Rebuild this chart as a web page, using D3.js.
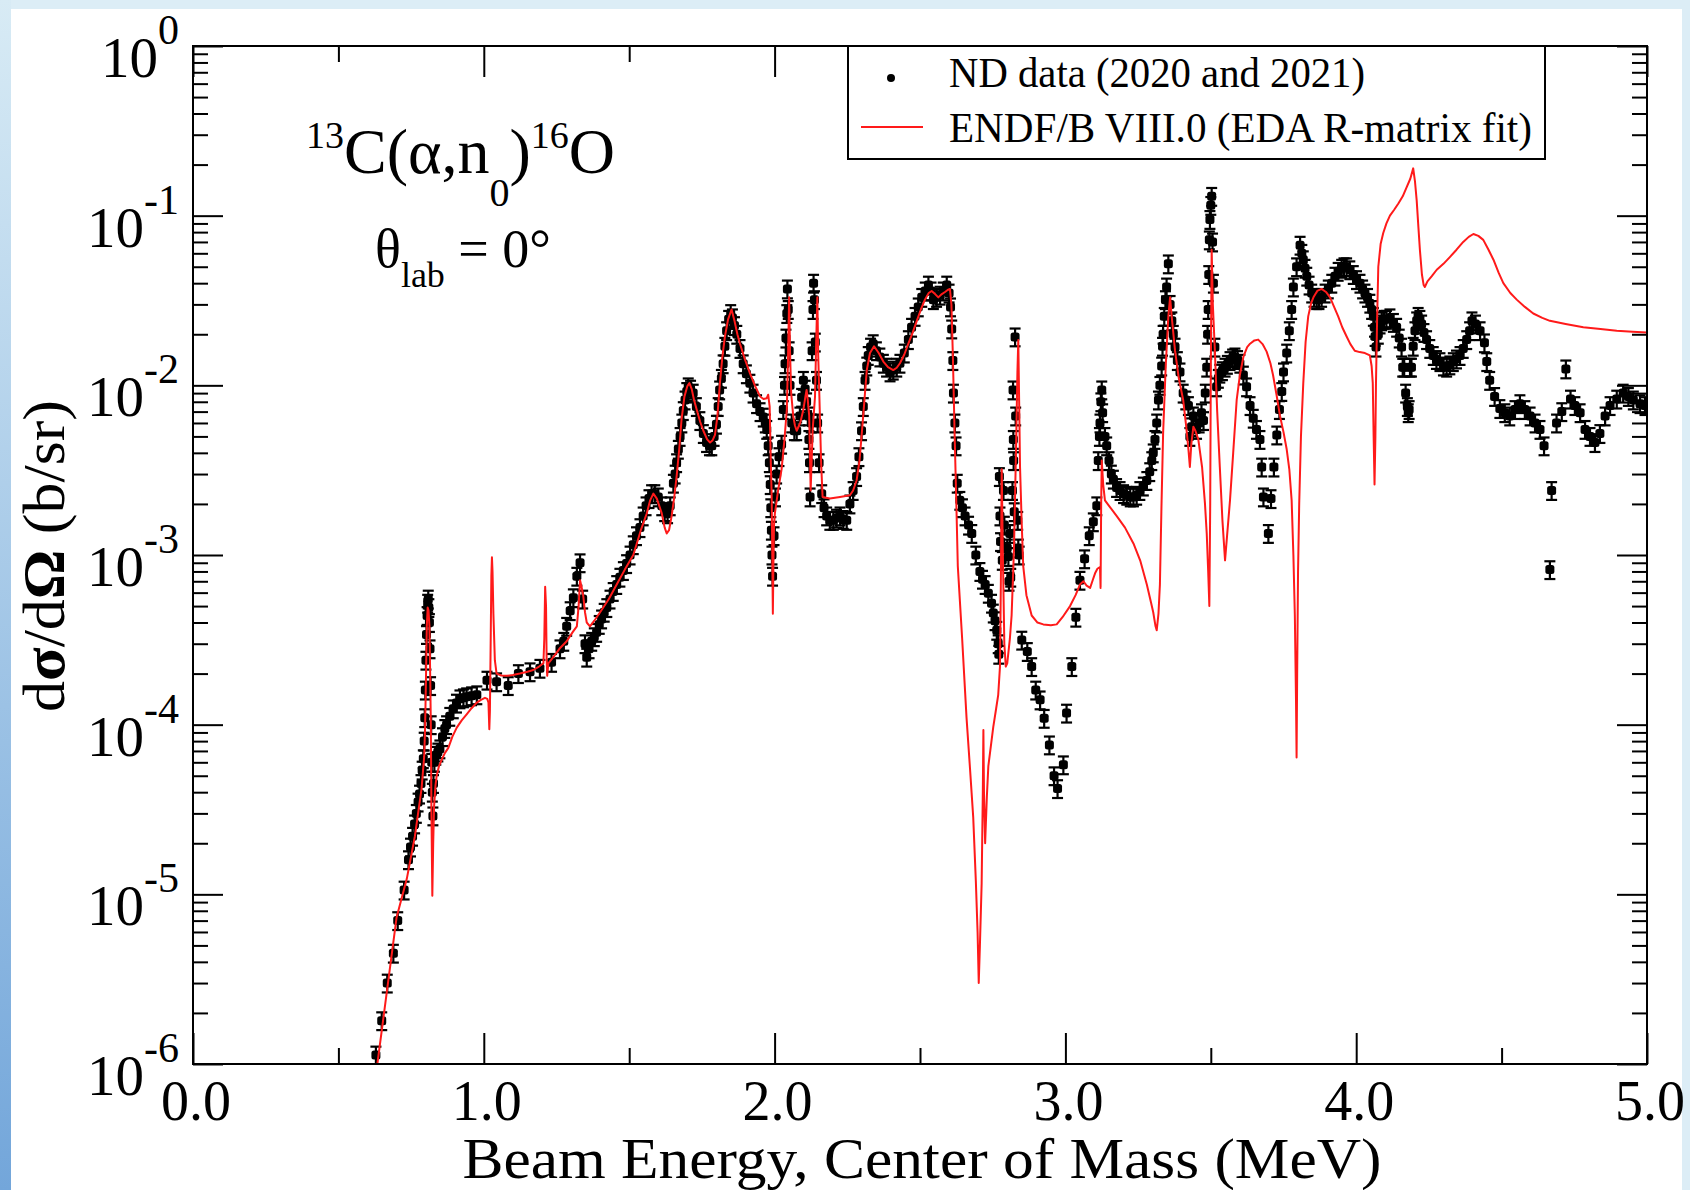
<!DOCTYPE html>
<html>
<head>
<meta charset="utf-8">
<script src="https://cdn.jsdelivr.net/npm/d3@7"></script>
<style>
html, body { margin: 0; padding: 0; background: #fff; overflow: hidden; }
svg { display: block; }
text { font-family: "Liberation Serif", "Times New Roman", serif; fill: #000; }
</style>
</head>
<body>
<svg id="chart" width="1690" height="1190"></svg>
<script>
// ND data (2020 and 2021): [E_cm (MeV), dsigma/dOmega (b/sr)]
const ndData = [
  [0.629,1.13e-6],[0.649,1.8e-6],[0.668,3.0e-6],[0.689,4.5e-6],[0.704,7.0e-6],[0.726,1.06e-5],
  [0.741,1.6e-5],[0.748,1.9e-5],[0.755,2.2e-5],[0.762,2.6e-5],[0.768,3.0e-5],[0.774,3.5e-5],
  [0.779,3.9e-5],[0.784,4.5e-5],[0.788,5.4e-5],[0.792,6.3e-5],[0.795,8.0e-5],[0.797,1.1e-4],
  [0.799,1.6e-4],[0.801,2.4e-4],[0.803,3.4e-4],[0.805,4.4e-4],[0.807,5.2e-4],[0.809,5.5e-4],
  [0.811,4.9e-4],[0.813,4.0e-4],[0.815,2.8e-4],[0.817,1.7e-4],[0.819,1.0e-4],[0.821,6.0e-5],
  [0.823,4.0e-5],[0.825,2.9e-5],[0.827,4.5e-5],[0.830,6.0e-5],[0.835,6.6e-5],[0.842,6.9e-5],
  [0.849,7.2e-5],[0.858,8.5e-5],[0.866,9.5e-5],[0.872,1.0e-4],[0.883,1.12e-4],[0.895,1.24e-4],
  [0.906,1.34e-4],[0.918,1.42e-4],[0.930,1.44e-4],[0.941,1.46e-4],[0.958,1.48e-4],[0.976,1.5e-4],
  [1.011,1.83e-4],[1.044,1.79e-4],[1.084,1.7e-4],[1.119,2.0e-4],[1.159,2.05e-4],[1.193,2.15e-4],
  [1.233,2.33e-4],[1.262,2.8e-4],[1.275,3.1e-4],[1.285,3.8e-4],[1.297,4.7e-4],[1.308,5.6e-4],
  [1.320,7.5e-4],[1.331,9.0e-4],[1.340,5.5e-4],[1.348,3.0e-4],[1.354,2.5e-4],[1.362,2.8e-4],
  [1.371,3.1e-4],[1.380,3.3e-4],[1.388,3.5e-4],[1.397,3.9e-4],[1.405,4.2e-4],[1.414,4.6e-4],
  [1.423,4.9e-4],[1.434,5.5e-4],[1.445,6.1e-4],[1.457,6.7e-4],[1.468,7.4e-4],[1.480,8.1e-4],
  [1.491,8.9e-4],[1.503,1.0e-3],[1.514,1.15e-3],[1.525,1.3e-3],[1.537,1.45e-3],[1.548,1.7e-3],
  [1.558,1.95e-3],[1.568,2.15e-3],[1.577,2.3e-3],[1.588,2.3e-3],[1.600,2.2e-3],[1.612,1.95e-3],
  [1.622,1.8e-3],[1.632,1.75e-3],[1.641,1.95e-3],[1.652,2.65e-3],[1.658,3.0e-3],[1.663,3.5e-3],
  [1.669,4.2e-3],[1.675,5.0e-3],[1.681,6.0e-3],[1.686,7.1e-3],[1.692,8.2e-3],[1.698,9.2e-3],
  [1.703,9.8e-3],[1.711,9.5e-3],[1.720,9.0e-3],[1.731,7.5e-3],[1.743,6.2e-3],[1.755,5.2e-3],
  [1.766,4.6e-3],[1.776,4.4e-3],[1.784,4.4e-3],[1.792,5.0e-3],[1.800,5.9e-3],[1.806,7.5e-3],
  [1.811,9.4e-3],[1.817,1.1e-2],[1.823,1.34e-2],[1.829,1.7e-2],[1.835,2.1e-2],[1.842,2.45e-2],
  [1.849,2.65e-2],[1.855,2.5e-2],[1.862,2.25e-2],[1.870,2.0e-2],[1.881,1.65e-2],[1.892,1.34e-2],
  [1.903,1.17e-2],[1.915,1.03e-2],[1.926,9.0e-3],[1.938,7.8e-3],[1.950,7.0e-3],[1.961,6.5e-3],
  [1.968,6.0e-3],[1.973,5.5e-3],[1.978,4.4e-3],[1.982,3.5e-3],[1.985,2.6e-3],[1.987,1.9e-3],
  [1.989,1.4e-3],[1.991,1.0e-3],[1.993,7.5e-4],[1.998,1.3e-3],[2.003,2.2e-3],[2.007,3.0e-3],
  [2.015,3.8e-3],[2.024,4.5e-3],[2.030,7.2e-3],[2.034,1.0e-2],[2.036,1.34e-2],[2.039,1.9e-2],
  [2.042,2.65e-2],[2.044,3.7e-2],[2.047,2.8e-2],[2.050,1.6e-2],[2.053,1.0e-2],[2.059,6.0e-3],
  [2.068,5.4e-3],[2.076,5.4e-3],[2.087,6.6e-3],[2.093,8.5e-3],[2.099,1.07e-2],[2.105,9.5e-3],
  [2.110,8.0e-3],[2.116,6.6e-3],[2.118,4.8e-3],[2.120,3.5e-3],[2.122,2.2e-3],[2.126,6.0e-3],
  [2.129,1.6e-2],[2.132,2.8e-2],[2.134,4.0e-2],[2.137,3.2e-2],[2.140,1.8e-2],[2.144,1.07e-2],
  [2.148,6.0e-3],[2.153,3.5e-3],[2.162,2.3e-3],[2.170,1.9e-3],[2.179,1.7e-3],[2.190,1.6e-3],
  [2.202,1.6e-3],[2.213,1.65e-3],[2.225,1.7e-3],[2.236,1.62e-3],[2.248,1.6e-3],[2.259,2.0e-3],
  [2.270,2.4e-3],[2.282,2.9e-3],[2.290,3.8e-3],[2.299,5.4e-3],[2.305,7.5e-3],[2.311,1.07e-2],
  [2.317,1.3e-2],[2.322,1.5e-2],[2.330,1.68e-2],[2.339,1.76e-2],[2.350,1.6e-2],[2.362,1.47e-2],
  [2.374,1.35e-2],[2.385,1.28e-2],[2.397,1.2e-2],[2.408,1.23e-2],[2.420,1.28e-2],[2.431,1.35e-2],
  [2.446,1.55e-2],[2.460,1.86e-2],[2.471,2.2e-2],[2.483,2.55e-2],[2.494,2.9e-2],[2.506,3.3e-2],
  [2.518,3.6e-2],[2.529,3.9e-2],[2.538,3.6e-2],[2.546,3.2e-2],[2.557,3.3e-2],[2.569,3.4e-2],
  [2.580,3.6e-2],[2.592,3.9e-2],[2.600,3.5e-2],[2.605,2.9e-2],[2.609,2.15e-2],[2.613,1.4e-2],
  [2.615,9.0e-3],[2.620,6.0e-3],[2.624,4.4e-3],[2.628,2.65e-3],[2.637,2.1e-3],[2.646,1.9e-3],
  [2.655,1.7e-3],[2.667,1.5e-3],[2.678,1.34e-3],[2.692,1.0e-3],[2.706,8.0e-4],[2.715,7.2e-4],
  [2.724,6.7e-4],[2.735,5.95e-4],[2.746,5.2e-4],[2.752,4.55e-4],[2.758,4.1e-4],[2.764,3.6e-4],
  [2.769,3.0e-4],[2.771,2.6e-4],[2.773,2.9e-3],[2.775,1.7e-3],[2.777,1.2e-3],[2.783,9.3e-4],
  [2.787,2.4e-3],[2.790,1.5e-3],[2.800,1.1e-3],[2.804,9.8e-4],[2.806,7.0e-4],[2.809,1.34e-3],
  [2.812,7.4e-4],[2.818,2.4e-3],[2.820,9.4e-3],[2.821,4.8e-3],[2.822,3.6e-3],[2.824,1.8e-3],
  [2.827,1.93e-2],[2.829,6.6e-3],[2.836,1.6e-3],[2.838,1.1e-3],[2.841,1.0e-3],[2.850,3.15e-4],
  [2.869,2.7e-4],[2.884,2.2e-4],[2.898,1.6e-4],[2.913,1.4e-4],[2.927,1.09e-4],[2.945,7.6e-5],
  [2.961,5.0e-5],[2.973,4.2e-5],[2.993,5.8e-5],[3.004,1.17e-4],[3.022,2.2e-4],[3.036,4.3e-4],
  [3.050,7.1e-4],[3.066,9.5e-4],[3.082,1.3e-3],[3.096,1.57e-3],[3.108,1.95e-3],[3.113,3.6e-3],
  [3.117,5.0e-3],[3.119,6.0e-3],[3.122,8.0e-3],[3.125,9.4e-3],[3.128,6.9e-3],[3.136,5.0e-3],
  [3.142,4.4e-3],[3.150,3.6e-3],[3.158,3.0e-3],[3.165,2.8e-3],[3.176,2.5e-3],[3.188,2.4e-3],
  [3.200,2.3e-3],[3.211,2.25e-3],[3.223,2.2e-3],[3.234,2.2e-3],[3.245,2.25e-3],[3.256,2.4e-3],
  [3.268,2.55e-3],[3.280,2.75e-3],[3.290,3.1e-3],[3.297,3.6e-3],[3.302,4.0e-3],[3.308,4.8e-3],
  [3.314,6.0e-3],[3.320,8.2e-3],[3.325,1.0e-2],[3.331,1.3e-2],[3.334,1.7e-2],[3.336,2.0e-2],
  [3.340,2.55e-2],[3.344,3.2e-2],[3.348,3.8e-2],[3.354,5.2e-2],[3.360,3.0e-2],[3.366,2.4e-2],
  [3.371,2.0e-2],[3.377,1.68e-2],[3.385,1.4e-2],[3.394,1.2e-2],[3.405,9.0e-3],[3.414,8.2e-3],
  [3.423,7.6e-3],[3.428,5.0e-3],[3.434,5.7e-3],[3.440,6.6e-3],[3.451,5.5e-3],[3.460,6.0e-3],
  [3.468,6.9e-3],[3.475,6.2e-3],[3.481,9.0e-3],[3.486,1.28e-2],[3.489,2.0e-2],[3.491,2.8e-2],
  [3.493,4.5e-2],[3.495,7.2e-2],[3.497,9.5e-2],[3.500,1.15e-1],[3.503,1.3e-1],[3.506,7.0e-2],
  [3.509,4.0e-2],[3.514,1.68e-2],[3.520,9.8e-3],[3.526,1.1e-2],[3.531,1.18e-2],[3.540,1.22e-2],
  [3.549,1.28e-2],[3.557,1.33e-2],[3.566,1.4e-2],[3.575,1.45e-2],[3.583,1.47e-2],[3.592,1.42e-2],
  [3.600,1.35e-2],[3.612,1.15e-2],[3.623,9.8e-3],[3.635,7.6e-3],[3.646,6.4e-3],[3.657,5.5e-3],
  [3.669,4.8e-3],[3.675,3.3e-3],[3.681,2.2e-3],[3.698,1.34e-3],[3.707,2.15e-3],[3.717,3.3e-3],
  [3.727,5.1e-3],[3.736,7.2e-3],[3.744,9.2e-3],[3.750,1.2e-2],[3.761,1.55e-2],[3.770,2.1e-2],
  [3.778,2.8e-2],[3.784,3.8e-2],[3.795,5.0e-2],[3.807,6.7e-2],[3.813,6.0e-2],[3.818,5.5e-2],
  [3.824,4.9e-2],[3.830,4.4e-2],[3.838,3.9e-2],[3.847,3.5e-2],[3.855,3.3e-2],[3.864,3.2e-2],
  [3.872,3.2e-2],[3.881,3.3e-2],[3.893,3.5e-2],[3.904,3.7e-2],[3.916,4.0e-2],[3.927,4.4e-2],
  [3.938,4.7e-2],[3.950,4.9e-2],[3.958,5.0e-2],[3.967,5.0e-2],[3.978,4.8e-2],[3.990,4.5e-2],
  [4.001,4.2e-2],[4.013,4.0e-2],[4.022,3.7e-2],[4.030,3.5e-2],[4.039,3.3e-2],[4.047,3.05e-2],
  [4.053,2.8e-2],[4.059,2.55e-2],[4.063,2.2e-2],[4.065,1.94e-2],[4.068,1.68e-2],[4.076,2.0e-2],
  [4.082,2.3e-2],[4.088,2.4e-2],[4.096,2.45e-2],[4.104,2.45e-2],[4.116,2.5e-2],[4.128,2.35e-2],
  [4.139,2.2e-2],[4.148,1.9e-2],[4.156,1.68e-2],[4.160,1.28e-2],[4.165,1.28e-2],[4.170,9.0e-3],
  [4.176,7.5e-3],[4.179,6.9e-3],[4.182,7.2e-3],[4.185,1.28e-2],[4.190,1.28e-2],[4.196,1.7e-2],
  [4.202,2.1e-2],[4.208,2.4e-2],[4.213,2.55e-2],[4.219,2.45e-2],[4.225,2.3e-2],[4.233,2.05e-2],
  [4.242,1.86e-2],[4.253,1.65e-2],[4.265,1.5e-2],[4.276,1.42e-2],[4.288,1.38e-2],[4.300,1.3e-2],
  [4.311,1.28e-2],[4.322,1.32e-2],[4.334,1.38e-2],[4.345,1.43e-2],[4.357,1.5e-2],[4.368,1.65e-2],
  [4.380,1.86e-2],[4.390,2.1e-2],[4.398,2.4e-2],[4.410,2.3e-2],[4.426,2.1e-2],[4.441,1.78e-2],
  [4.449,1.38e-2],[4.459,1.07e-2],[4.476,8.6e-3],[4.494,7.3e-3],[4.511,6.9e-3],[4.528,6.6e-3],
  [4.546,7.2e-3],[4.563,7.8e-3],[4.580,7.2e-3],[4.598,6.6e-3],[4.615,6.0e-3],[4.632,5.5e-3],
  [4.646,4.4e-3],[4.666,8.2e-4],[4.672,2.4e-3],[4.689,6.0e-3],[4.707,7.0e-3],[4.721,1.25e-2],
  [4.737,8.3e-3],[4.752,7.6e-3],[4.770,6.9e-3],[4.787,5.5e-3],[4.804,5.0e-3],[4.821,4.6e-3],
  [4.838,5.2e-3],[4.856,6.6e-3],[4.873,7.6e-3],[4.896,8.3e-3],[4.918,9.0e-3],[4.936,8.6e-3],
  [4.953,8.2e-3],[4.976,7.8e-3],[4.993,7.6e-3]
];
const ndRelErr = 0.12;

// ENDF/B VIII.0 (EDA R-matrix fit): [E_cm (MeV), dsigma/dOmega (b/sr)]
const endfCurve = [
  [0.634,1.0e-6],[0.700,7.3e-6],[0.735,1.23e-5],[0.763,2.2e-5],[0.786,4.2e-5],[0.795,6.5e-5],
  [0.798,9.4e-5],[0.801,1.8e-4],[0.804,3.8e-4],[0.807,4.9e-4],[0.810,4.7e-4],[0.813,3.8e-4],
  [0.816,1.8e-4],[0.818,9.4e-5],[0.820,3.0e-5],[0.823,9.8e-6],[0.826,2.0e-5],[0.829,3.3e-5],
  [0.834,4.4e-5],[0.838,5.0e-5],[0.846,5.7e-5],[0.855,6.2e-5],[0.866,6.8e-5],[0.878,7.3e-5],
  [0.892,8.5e-5],[0.907,9.6e-5],[0.924,1.06e-4],[0.941,1.15e-4],[0.958,1.25e-4],[0.976,1.35e-4],
  [0.990,1.4e-4],[1.004,1.44e-4],[1.012,1.42e-4],[1.016,1.35e-4],[1.019,9.4e-5],[1.021,1.2e-4],
  [1.024,3.5e-4],[1.026,7.5e-4],[1.028,9.7e-4],[1.030,8.0e-4],[1.033,4.5e-4],[1.038,2.4e-4],
  [1.044,2.0e-4],[1.060,1.95e-4],[1.079,1.94e-4],[1.100,1.96e-4],[1.124,2.0e-4],[1.150,2.05e-4],
  [1.170,2.1e-4],[1.190,2.2e-4],[1.205,2.3e-4],[1.208,3.2e-4],[1.211,6.5e-4],[1.214,5.0e-4],
  [1.216,2.5e-4],[1.218,1.94e-4],[1.222,2.3e-4],[1.239,2.5e-4],[1.260,2.8e-4],[1.285,3.1e-4],
  [1.305,3.5e-4],[1.320,3.8e-4],[1.326,5.0e-4],[1.331,7.1e-4],[1.336,6.5e-4],[1.342,5.75e-4],
  [1.348,4.6e-4],[1.354,4.0e-4],[1.365,3.8e-4],[1.380,4.1e-4],[1.400,4.6e-4],[1.430,5.5e-4],
  [1.457,6.7e-4],[1.485,8.2e-4],[1.514,1.0e-3],[1.540,1.4e-3],[1.560,1.75e-3],[1.572,2.1e-3],
  [1.583,2.3e-3],[1.595,2.15e-3],[1.612,1.76e-3],[1.622,1.45e-3],[1.629,1.34e-3],[1.637,1.4e-3],
  [1.646,1.7e-3],[1.655,2.2e-3],[1.663,2.9e-3],[1.672,4.2e-3],[1.680,6.3e-3],[1.690,8.6e-3],
  [1.700,9.9e-3],[1.707,1.03e-2],[1.715,9.5e-3],[1.723,8.2e-3],[1.732,7.2e-3],[1.744,6.1e-3],
  [1.755,5.4e-3],[1.768,4.8e-3],[1.778,4.6e-3],[1.787,4.75e-3],[1.795,5.1e-3],[1.803,6.5e-3],
  [1.812,1.03e-2],[1.820,1.45e-2],[1.829,1.93e-2],[1.840,2.45e-2],[1.852,2.8e-2],[1.862,2.4e-2],
  [1.872,2.0e-2],[1.881,1.76e-2],[1.898,1.42e-2],[1.915,1.18e-2],[1.932,1.0e-2],[1.950,8.6e-3],
  [1.962,8.3e-3],[1.973,8.4e-3],[1.978,8.8e-3],[1.983,7.5e-3],[1.987,3.5e-3],[1.990,2.2e-3],
  [1.992,1.0e-3],[1.994,4.5e-4],[1.996,9.0e-4],[1.998,1.5e-3],[2.001,1.76e-3],[2.012,2.4e-3],
  [2.024,3.2e-3],[2.034,4.8e-3],[2.042,7.2e-3],[2.046,1.4e-2],[2.050,3.3e-2],[2.053,1.6e-2],
  [2.057,9.0e-3],[2.064,6.6e-3],[2.070,5.8e-3],[2.076,5.4e-3],[2.088,6.0e-3],[2.099,7.2e-3],
  [2.106,8.6e-3],[2.110,9.4e-3],[2.114,8.2e-3],[2.119,6.6e-3],[2.124,2.4e-3],[2.131,5.5e-3],
  [2.139,8.6e-3],[2.143,1.8e-2],[2.147,3.3e-2],[2.150,1.5e-2],[2.154,8.6e-3],[2.160,3.5e-3],
  [2.165,2.2e-3],[2.190,2.15e-3],[2.225,2.2e-3],[2.259,2.25e-3],[2.270,2.4e-3],[2.282,2.75e-3],
  [2.292,3.6e-3],[2.299,5.0e-3],[2.308,7.8e-3],[2.317,1.23e-2],[2.328,1.55e-2],[2.342,1.7e-2],
  [2.358,1.55e-2],[2.374,1.38e-2],[2.390,1.28e-2],[2.408,1.23e-2],[2.420,1.27e-2],[2.431,1.35e-2],
  [2.446,1.52e-2],[2.460,1.76e-2],[2.475,2.05e-2],[2.489,2.4e-2],[2.503,2.8e-2],[2.517,3.2e-2],
  [2.530,3.5e-2],[2.540,3.6e-2],[2.552,3.45e-2],[2.563,3.3e-2],[2.575,3.45e-2],[2.586,3.55e-2],
  [2.595,3.65e-2],[2.603,3.7e-2],[2.608,3.0e-2],[2.613,1.5e-2],[2.619,5.2e-3],[2.625,2.0e-3],
  [2.630,8.6e-4],[2.645,3.2e-4],[2.660,1.1e-4],[2.672,5.5e-5],[2.683,2.85e-5],[2.692,1.2e-5],
  [2.698,6.0e-6],[2.702,3.0e-6],[2.706,5.0e-6],[2.712,1.16e-5],[2.716,4.0e-5],[2.718,9.3e-5],
  [2.720,4.0e-5],[2.724,2.0e-5],[2.730,3.8e-5],[2.735,5.7e-5],[2.752,9.7e-5],[2.762,1.25e-4],
  [2.769,1.5e-4],[2.775,2.2e-4],[2.778,6.7e-4],[2.781,3.2e-3],[2.785,1.0e-3],[2.790,3.0e-4],
  [2.795,2.2e-4],[2.800,2.3e-4],[2.809,3.2e-4],[2.815,4.4e-4],[2.823,1.06e-3],[2.830,4.0e-3],
  [2.835,1.2e-2],[2.838,1.85e-2],[2.841,8.0e-3],[2.844,3.3e-3],[2.850,1.5e-3],[2.855,8.6e-4],
  [2.866,5.8e-4],[2.884,4.4e-4],[2.904,4.0e-4],[2.924,3.9e-4],[2.950,3.85e-4],[2.970,3.9e-4],
  [2.990,4.3e-4],[3.016,5.0e-4],[3.035,5.8e-4],[3.050,6.7e-4],[3.062,7.0e-4],[3.073,6.6e-4],
  [3.085,6.4e-4],[3.095,7.2e-4],[3.102,7.8e-4],[3.110,8.3e-4],[3.119,8.5e-4],[3.121,6.4e-4],
  [3.123,2.0e-3],[3.125,3.6e-3],[3.130,2.6e-3],[3.136,2.1e-3],[3.150,1.95e-3],[3.176,1.7e-3],
  [3.205,1.45e-3],[3.234,1.17e-3],[3.258,9.2e-4],[3.280,6.7e-4],[3.295,5.2e-4],[3.302,4.6e-4],
  [3.310,3.8e-4],[3.314,3.6e-4],[3.320,4.5e-4],[3.325,6.7e-4],[3.330,1.8e-3],[3.336,5.2e-3],
  [3.345,1.3e-2],[3.354,2.55e-2],[3.360,3.3e-2],[3.366,2.5e-2],[3.377,1.6e-2],[3.390,1.1e-2],
  [3.405,8.2e-3],[3.415,5.8e-3],[3.423,4.2e-3],[3.428,3.3e-3],[3.433,4.5e-3],[3.440,5.7e-3],
  [3.447,5.4e-3],[3.457,4.8e-3],[3.470,3.3e-3],[3.480,2.0e-3],[3.486,1.34e-3],[3.491,8.0e-4],
  [3.495,5.0e-4],[3.498,2.0e-3],[3.500,1.2e-2],[3.503,6.3e-2],[3.507,3.0e-2],[3.514,1.6e-2],
  [3.522,7.0e-3],[3.531,3.3e-3],[3.540,1.6e-3],[3.549,9.3e-4],[3.556,1.3e-3],[3.566,2.1e-3],
  [3.577,4.0e-3],[3.589,8.2e-3],[3.600,1.15e-2],[3.612,1.47e-2],[3.625,1.68e-2],[3.635,1.76e-2],
  [3.650,1.84e-2],[3.663,1.86e-2],[3.678,1.75e-2],[3.692,1.58e-2],[3.705,1.35e-2],[3.714,1.15e-2],
  [3.726,8.8e-3],[3.738,6.6e-3],[3.750,5.3e-3],[3.761,4.2e-3],[3.770,3.2e-3],[3.778,2.1e-3],
  [3.784,1.0e-3],[3.789,4.4e-4],[3.793,1.4e-4],[3.795,6.4e-5],[3.797,2.0e-4],[3.800,8.0e-4],
  [3.804,2.0e-3],[3.810,5.0e-3],[3.818,1.03e-2],[3.826,1.8e-2],[3.835,2.55e-2],[3.845,3.05e-2],
  [3.853,3.3e-2],[3.866,3.6e-2],[3.881,3.7e-2],[3.896,3.55e-2],[3.910,3.3e-2],[3.924,2.9e-2],
  [3.938,2.55e-2],[3.952,2.2e-2],[3.967,1.94e-2],[3.980,1.75e-2],[3.995,1.6e-2],[4.012,1.57e-2],
  [4.030,1.55e-2],[4.047,1.5e-2],[4.053,1.3e-2],[4.057,1.03e-2],[4.060,5.0e-3],[4.063,2.6e-3],
  [4.066,5.0e-3],[4.068,1.03e-2],[4.072,2.5e-2],[4.076,5.0e-2],[4.084,6.8e-2],[4.093,7.9e-2],
  [4.104,9.0e-2],[4.116,1.0e-1],[4.130,1.08e-1],[4.145,1.18e-1],[4.160,1.3e-1],[4.174,1.48e-1],
  [4.186,1.65e-1],[4.196,1.9e-1],[4.202,1.6e-1],[4.208,1.23e-1],[4.214,8.5e-2],[4.219,6.3e-2],
  [4.226,4.5e-2],[4.232,3.9e-2],[4.236,3.8e-2],[4.245,4.1e-2],[4.260,4.4e-2],[4.277,4.8e-2],
  [4.300,5.2e-2],[4.322,5.7e-2],[4.345,6.3e-2],[4.368,7.0e-2],[4.387,7.5e-2],[4.403,7.8e-2],
  [4.420,7.6e-2],[4.437,7.2e-2],[4.455,6.3e-2],[4.472,5.5e-2],[4.490,4.6e-2],[4.506,4.0e-2],
  [4.530,3.5e-2],[4.552,3.2e-2],[4.580,2.9e-2],[4.609,2.65e-2],[4.640,2.5e-2],[4.666,2.4e-2],
  [4.720,2.3e-2],[4.781,2.2e-2],[4.840,2.15e-2],[4.896,2.1e-2],[4.950,2.07e-2],[5.000,2.05e-2]
];

const xMajorTicks = [0, 1, 2, 3, 4, 5];
const xMinorTicks = [0.5, 1.5, 2.5, 3.5, 4.5];
const xTickLabels = ["0.0", "1.0", "2.0", "3.0", "4.0", "5.0"];
const yDecadeExponents = [0, -1, -2, -3, -4, -5, -6];
const legendLabels = ["ND data (2020 and 2021)", "ENDF/B VIII.0 (EDA R-matrix fit)"];

const W = 1690, H = 1190;
const plot = {left: 193, right: 1647, top: 46, bottom: 1064};

const x = d3.scaleLinear().domain([0, 5]).range([plot.left, plot.right]);
const y = d3.scaleLog().domain([1e-6, 1]).range([plot.bottom, plot.top]);

const svg = d3.select("#chart");

// slide background round the figure
const defs = svg.append("defs");
const edge = defs.append("linearGradient").attr("id", "edge")
  .attr("x1", 0).attr("y1", 0).attr("x2", 0).attr("y2", 1);
edge.append("stop").attr("offset", "0%").attr("stop-color", "#d8ebf5");
edge.append("stop").attr("offset", "100%").attr("stop-color", "#73a6da");
svg.append("rect").attr("width", W).attr("height", H).attr("fill", "#dcedf6");
svg.append("rect").attr("x", 0).attr("y", 0).attr("width", 11).attr("height", H).attr("fill", "url(#edge)");
svg.append("rect").attr("x", 11).attr("y", 9).attr("width", 1671).attr("height", H - 9).attr("fill", "#fff");

defs.append("clipPath").attr("id", "clip")
  .append("rect")
  .attr("x", plot.left).attr("y", plot.top)
  .attr("width", plot.right - plot.left).attr("height", plot.bottom - plot.top);

// inward ticks on all four sides
function tickSide(axisFn, scale, values, size, tx, ty) {
  const g = svg.append("g")
    .attr("transform", "translate(" + tx + "," + ty + ")")
    .call(axisFn(scale).tickValues(values).tickSize(-size).tickFormat(""));
  g.select(".domain").remove();
  g.selectAll(".tick line").attr("stroke", "#000").attr("stroke-width", 2);
}

const yMinorTicks = [];
yDecadeExponents.slice(0, -1).forEach(k => {
  for (let m = 2; m <= 9; m++) yMinorTicks.push(m * Math.pow(10, k - 1));
});
const yMajorTicks = yDecadeExponents.map(k => Math.pow(10, k));

tickSide(d3.axisBottom, x, xMajorTicks, 31, 0, plot.bottom);
tickSide(d3.axisBottom, x, xMinorTicks, 16, 0, plot.bottom);
tickSide(d3.axisTop, x, xMajorTicks, 31, 0, plot.top);
tickSide(d3.axisTop, x, xMinorTicks, 16, 0, plot.top);
tickSide(d3.axisLeft, y, yMajorTicks, 30, plot.left, 0);
tickSide(d3.axisLeft, y, yMinorTicks, 15, plot.left, 0);
tickSide(d3.axisRight, y, yMajorTicks, 30, plot.right, 0);
tickSide(d3.axisRight, y, yMinorTicks, 15, plot.right, 0);

// data points with error bars
const dataG = svg.append("g").attr("clip-path", "url(#clip)");
const pts = dataG.selectAll("g.pt").data(ndData).join("g").attr("class", "pt");
const hi = d => y(d[1] * (1 + ndRelErr)), lo = d => y(d[1] * (1 - ndRelErr));
pts.append("line")
  .attr("x1", d => x(d[0])).attr("x2", d => x(d[0]))
  .attr("y1", hi).attr("y2", lo)
  .attr("stroke", "#000").attr("stroke-width", 2.2);
pts.append("line")
  .attr("x1", d => x(d[0]) - 5.5).attr("x2", d => x(d[0]) + 5.5)
  .attr("y1", hi).attr("y2", hi)
  .attr("stroke", "#000").attr("stroke-width", 2.2);
pts.append("line")
  .attr("x1", d => x(d[0]) - 5.5).attr("x2", d => x(d[0]) + 5.5)
  .attr("y1", lo).attr("y2", lo)
  .attr("stroke", "#000").attr("stroke-width", 2.2);
pts.append("rect")
  .attr("x", d => x(d[0]) - 4.5).attr("y", d => y(d[1]) - 4.5)
  .attr("width", 9).attr("height", 9).attr("rx", 2.5)
  .attr("fill", "#000");

// R-matrix curve
const line = d3.line().x(d => x(d[0])).y(d => y(d[1]));
dataG.append("path")
  .datum(endfCurve)
  .attr("d", line)
  .attr("fill", "none")
  .attr("stroke", "#ff1a1a")
  .attr("stroke-width", 2)
  .attr("stroke-linejoin", "round");

// frame
svg.append("rect")
  .attr("x", plot.left).attr("y", plot.top)
  .attr("width", plot.right - plot.left).attr("height", plot.bottom - plot.top)
  .attr("fill", "none").attr("stroke", "#000").attr("stroke-width", 2);

// x tick labels
svg.selectAll("text.xl").data(xMajorTicks).join("text")
  .attr("class", "xl")
  .attr("x", d => x(d) + 3).attr("y", 1120)
  .attr("text-anchor", "middle").attr("font-size", 56)
  .text((d, i) => xTickLabels[i]);

// y tick labels 10^k
yDecadeExponents.forEach(k => {
  const t = svg.append("text")
    .attr("x", 179).attr("y", y(Math.pow(10, k)) + 31)
    .attr("text-anchor", "end");
  t.append("tspan").attr("font-size", 57).text("10");
  t.append("tspan").attr("font-size", 42).attr("dy", -33).text(String(k));
});

// axis titles
svg.append("text")
  .attr("x", 922).attr("y", 1178)
  .attr("text-anchor", "middle").attr("font-size", 58)
  .attr("textLength", 919).attr("lengthAdjust", "spacingAndGlyphs")
  .text("Beam Energy, Center of Mass (MeV)");

const yt = svg.append("text")
  .attr("transform", "translate(64,556) rotate(-90)")
  .attr("text-anchor", "middle").attr("font-size", 60)
  .attr("textLength", 312).attr("lengthAdjust", "spacingAndGlyphs");
yt.append("tspan").text("d");
yt.append("tspan").attr("font-weight", "bold").text("σ");
yt.append("tspan").text("/d");
yt.append("tspan").attr("font-weight", "bold").text("Ω");
yt.append("tspan").text(" (b/sr)");

// reaction label, pieces flow one after another
const r1 = svg.append("text").attr("x", 306).attr("y", 173);
r1.append("tspan").attr("y", 148).attr("font-size", 38).text("13");
r1.append("tspan").attr("y", 173).attr("font-size", 64).text("C(α,n");
r1.append("tspan").attr("y", 206).attr("font-size", 40).text("0");
r1.append("tspan").attr("y", 173).attr("font-size", 64).text(")");
r1.append("tspan").attr("y", 148).attr("font-size", 38).text("16");
r1.append("tspan").attr("y", 173).attr("font-size", 64).text("O");

const r2 = svg.append("text").attr("x", 375).attr("y", 267);
r2.append("tspan").attr("y", 267).attr("font-size", 54).text("θ");
r2.append("tspan").attr("y", 287).attr("font-size", 36).text("lab");
r2.append("tspan").attr("y", 267).attr("font-size", 54).text(" = 0°");

// legend
const lg = svg.append("g");
lg.append("rect")
  .attr("x", 848).attr("y", 46).attr("width", 697).attr("height", 113)
  .attr("fill", "#fff").attr("stroke", "#000").attr("stroke-width", 2);
lg.append("circle").attr("cx", 891).attr("cy", 78).attr("r", 4).attr("fill", "#000");
lg.append("line")
  .attr("x1", 861).attr("x2", 923).attr("y1", 127).attr("y2", 127)
  .attr("stroke", "#ff1a1a").attr("stroke-width", 2);
lg.append("text").attr("x", 949).attr("y", 87).attr("font-size", 43)
  .attr("textLength", 416).attr("lengthAdjust", "spacingAndGlyphs")
  .text(legendLabels[0]);
lg.append("text").attr("x", 949).attr("y", 142).attr("font-size", 43)
  .attr("textLength", 583).attr("lengthAdjust", "spacingAndGlyphs")
  .text(legendLabels[1]);
</script>
</body>
</html>
